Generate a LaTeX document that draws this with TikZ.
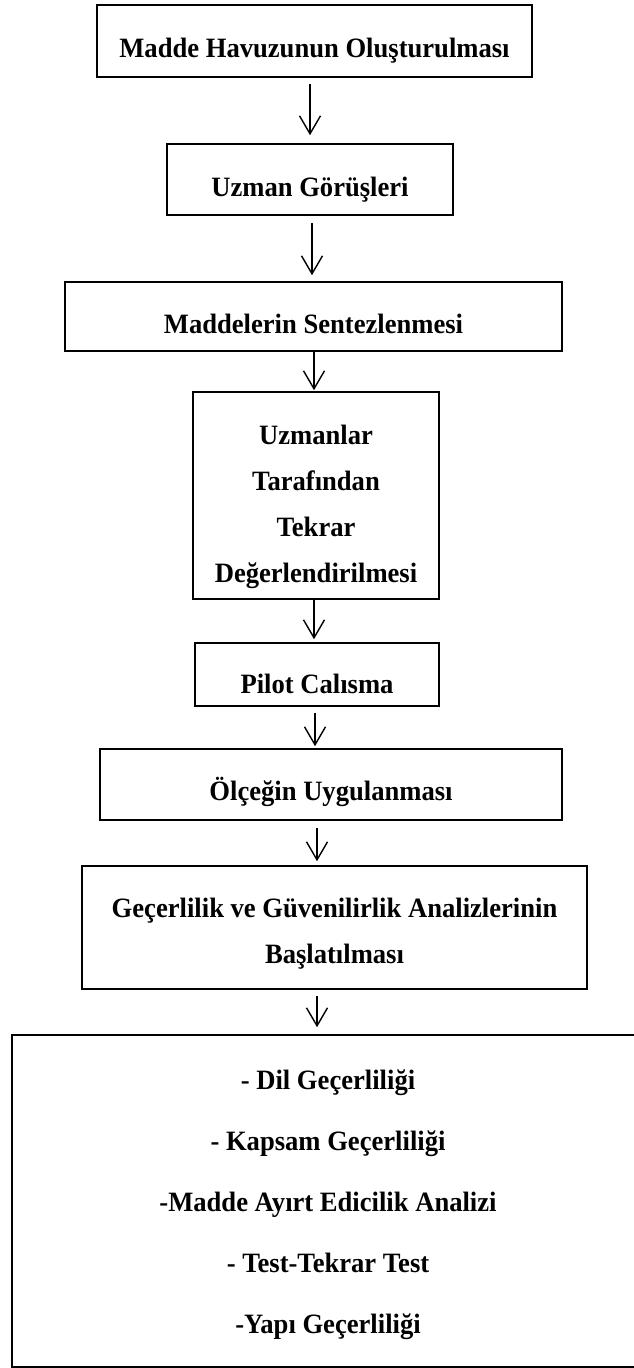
\documentclass[tikz,border=0pt]{standalone}
\usepackage{fontspec}
\setmainfont{Liberation Serif}[FakeStretch=0.95]
\usetikzlibrary{arrows.meta}

\begin{document}
\begin{tikzpicture}
  [x=1pt,y=-1pt,
   every node/.style={draw,line width=1.6pt,inner sep=0pt,align=center,
     font=\fontsize{28}{46}\selectfont\bfseries,text depth=0pt},
   arrow/.style={line width=1.4pt,-{Straight Barb[length=18pt,width=21pt]}}]
  \useasboundingbox (0,0) rectangle (634,1368);

  \node (b1) at (314.5,41) [minimum width=435pt,minimum height=72pt,text height=33pt] {Madde Havuzunun Oluşturulması};
  \node (b2) at (310,179.5) [minimum width=286pt,minimum height=71pt,text height=33pt] {Uzman Görüşleri};
  \node (b3) at (313.5,316.5) [minimum width=497pt,minimum height=69pt,text height=33pt] {Maddelerin Sentezlenmesi};
  \node (b4) at (316,495.5) [minimum width=246pt,minimum height=207pt,text height=173pt] {Uzmanlar\\Tarafından\\Tekrar\\Değerlendirilmesi};
  \node (b5) at (317,674.5) [minimum width=244pt,minimum height=63pt,text height=37pt] {Pilot Calısma};
  \node (b6) at (331,784.5) [minimum width=462pt,minimum height=71pt,text height=32pt] {Ölçeğin Uygulanması};
  \node (b7) at (334.5,927.5) [minimum width=505pt,minimum height=123pt,text height=71pt] {Geçerlilik ve Güvenilirlik Analizlerinin\\Başlatılması};
  \node (b8) at (328,1201) [minimum width=632pt,minimum height=332pt,text height=264pt,
    font=\fontsize{28}{61}\selectfont\bfseries] {- Dil Geçerliliği\\- Kapsam Geçerliliği\\-Madde Ayırt Edicilik Analizi\\- Test-Tekrar Test\\-Yapı Geçerliliği};

  \foreach \from/\to/\ax/\ga/\gb in {b1/b2/310/6/8,b2/b3/312/7/6,b3/b4/314/0/1,b4/b5/314/0/3,
                                     b5/b6/315/6/2,b6/b7/317/7/4,b7/b8/317/6/7}
    \draw[arrow,shorten <=\ga pt,shorten >=\gb pt] (\from.south -| \ax,0) -- (\to.north -| \ax,0);

\end{tikzpicture}
\end{document}
